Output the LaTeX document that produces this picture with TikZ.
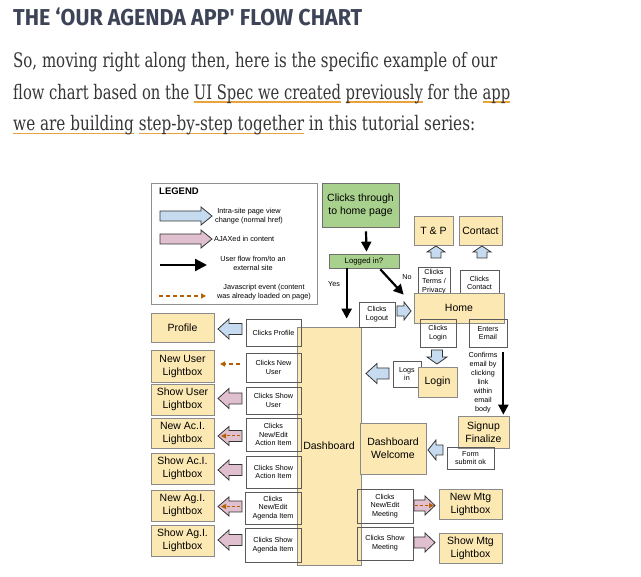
\documentclass[tikz,border=0pt]{standalone}
\usepackage{fontspec}
\usepackage{graphicx}
\setmainfont{Liberation Sans}
\newfontfamily\headfont{Fira Sans}
\newfontfamily\parafont{DejaVu Serif}
\usetikzlibrary{arrows.meta,calc}
\definecolor{headc}{HTML}{3E4457}
\definecolor{parac}{HTML}{363636}
\definecolor{linkc}{HTML}{E8A33D}
\definecolor{yel}{HTML}{FCE8B2}
\definecolor{boxc}{HTML}{8A8A8A}
\definecolor{wbd}{HTML}{5A5A5A}
\definecolor{grn}{HTML}{A9D18E}
\definecolor{gbd}{HTML}{6F6F6F}
\definecolor{blu}{HTML}{C6DBF0}
\definecolor{pnk}{HTML}{E0BFCF}
\definecolor{arc}{HTML}{333333}
\definecolor{orng}{HTML}{B45F06}
\definecolor{lgc}{HTML}{8F8F8F}
\newcommand{\lnk}[1]{\setbox0\hbox{#1}\rlap{\color{linkc}\rule[-3.2pt]{\wd0}{1.3pt}}\box0\relax}
\newcommand{\boxat}[7]{\node[#1, minimum width={#5-#3}, minimum height={#6-#4}] (#2) at ({(#3+#5)/2},{(#4+#6)/2}) {#7};}
% horizontal block arrow: style, tail x, head base x, tip x, y, half shaft, half head
\newcommand{\harrow}[7]{\draw[#1] (#2,{#5-#6}) -- (#3,{#5-#6}) -- (#3,{#5-#7}) -- (#4,#5) -- (#3,{#5+#7}) -- (#3,{#5+#6}) -- (#2,{#5+#6}) -- cycle;}
% vertical block arrow: style, x, tail y, head base y, tip y, half shaft, half head
\newcommand{\varrow}[7]{\draw[#1] ({#2-#6},#3) -- ({#2-#6},#4) -- ({#2-#7},#4) -- (#2,#5) -- ({#2+#7},#4) -- ({#2+#6},#4) -- ({#2+#6},#3) -- cycle;}
\begin{document}
\begin{tikzpicture}[x=1pt,y=-1pt,
 ybox/.style={draw=boxc, fill=yel, line width=0.7pt, align=center, inner sep=0pt, font=\fontsize{10.5}{13}\selectfont},
 wbox/.style={draw=wbd, line width=0.7pt, align=center, inner sep=0pt, font=\fontsize{7.2}{8.8}\selectfont},
 gbox/.style={draw=gbd, fill=grn, line width=0.7pt, align=center, inner sep=0pt},
 lbox/.style={draw=lgc, fill=white, line width=0.8pt},
 legtxt/.style={font=\fontsize{7.3}{9}\selectfont, align=center, inner sep=0pt},
 smtxt/.style={font=\fontsize{7.2}{8.9}\selectfont, align=center, inner sep=0pt},
 blk/.style={line width=2.2pt, -{Triangle[width=10pt,length=10pt]}},
 dsh/.style={draw=orng, line width=1.1pt, dash pattern=on 4pt off 3pt, -{Triangle[width=5pt,length=5pt]}},
 blueA/.style={draw=arc, fill=blu, line width=0.8pt, line join=miter},
 pinkA/.style={draw=arc, fill=pnk, line width=0.8pt, line join=miter},
]
\useasboundingbox (0,0) rectangle (641,577);
\fill[white] (0,0) rectangle (641,577);

% ---------- heading and paragraph ----------
\node[anchor=west, inner sep=0pt, text=headc] (title) at (13,17)
 {\resizebox{349pt}{\height}{\headfont\bfseries\fontsize{23}{27}\selectfont THE ‘OUR AGENDA APP' FLOW CHART}};
\node[anchor=base west, inner sep=0pt, text=parac] (p1) at (13,68)
 {\resizebox{484pt}{\height}{\parafont\fontsize{20}{24}\selectfont So, moving right along then, here is the specific example of our}};
\node[anchor=base west, inner sep=0pt, text=parac] (p2) at (13,99.5)
 {\resizebox{497pt}{\height}{\parafont\fontsize{20}{24}\selectfont flow chart based on the \lnk{UI Spec we created} \lnk{previously} for the \lnk{app}}};
\node[anchor=base west, inner sep=0pt, text=parac] (p3) at (13,131)
 {\resizebox{462pt}{\height}{\parafont\fontsize{20}{24}\selectfont \lnk{we are building} \lnk{step-by-step together} in this tutorial series:}};

% ---------- legend ----------
\boxat{lbox}{legend}{151}{183}{317}{304}{}
\node[anchor=west, inner sep=0pt, font=\bfseries\fontsize{9.5}{11}\selectfont] (legtitle) at (159,191) {LEGEND};
\harrow{blueA}{160}{201}{212}{216}{5}{9}
\node[legtxt] (lt1) at (249,216.5) {Intra-site page view\\change (normal href)};
\harrow{pinkA}{160}{201}{212}{239}{5}{9}
\node[legtxt, anchor=west] (lt2) at (214,239) {AJAXed in content};
\coordinate (lb1) at (160,265);
\coordinate (lb2) at (207,265);
\draw[blk, -{Triangle[width=12pt,length=12pt]}] (lb1) -- (lb2);
\node[legtxt] (lt3) at (253,263.5) {User flow from/to an\\external site};
\coordinate (ld1) at (159,296);
\coordinate (ld2) at (206,296);
\draw[dsh] (ld1) -- (ld2);
\node[legtxt] (lt4) at (264,292.5) {Javascript event (content\\was already loaded on page)};

% ---------- top flow ----------
\boxat{gbox, font=\fontsize{10.5}{12.7}\selectfont}{start}{322}{183}{399}{227}{Clicks through\\to home page}
\boxat{gbox, font=\fontsize{7.8}{9}\selectfont}{logged}{329}{254}{399}{268}{Logged in?}
\coordinate (gS) at ($(start.south)+(5.5,4)$);
\coordinate (gE) at ($(logged.north)+(2.5,-2)$);
\draw[blk] (gS) -- (gE);

\boxat{ybox}{tp}{414}{216}{453}{245}{T \& P}
\boxat{ybox}{contact}{459}{216}{502}{245}{Contact}
\varrow{blueA}{436}{258}{252}{246}{5}{9}
\varrow{blueA}{482}{258}{252}{246}{5}{9}
\boxat{wbox}{cterms}{418}{267}{450}{296}{Clicks\\Terms /\\Privacy}
\boxat{wbox}{ccontact}{460}{270}{499}{296}{Clicks\\Contact}
\boxat{ybox}{home}{414}{293}{504}{323}{Home}
\boxat{wbox}{clogin}{420}{319}{456}{347}{Clicks\\Login}
\boxat{wbox}{email}{469}{319}{507}{347}{Enters\\Email}

\coordinate (nS) at ($(logged.south east)+(-19,1)$);
\coordinate (nE) at ($(home.north west)+(-10,2)$);
\draw[blk] (nS) -- (nE);
\node[smtxt] (no) at (407,277) {No};

% ---------- dashboard ----------
\boxat{ybox}{dash}{297}{327}{361}{565}{Dashboard}
\coordinate (yS) at ($(logged.south west)+(18,0)$);
\draw[blk, shorten >=8pt] (yS) -- (yS |- dash.north);
\node[smtxt] (yes) at (334,284) {Yes};

\boxat{wbox}{clogout}{359}{302}{395}{327}{Clicks\\Logout}
\harrow{blueA}{397}{404}{411}{311}{5}{9}

\varrow{blueA}{437}{350}{357}{364}{5.5}{10}
\boxat{wbox}{logsin}{393}{361}{421}{387}{Logs\\in}
\boxat{ybox}{login}{418}{367}{457}{397}{Login}
\harrow{blueA}{389}{377}{366}{373.5}{5.5}{10}

\node[smtxt] (confirm) at (483,382.5) {Confirms\\email by\\clicking\\link\\within\\email\\body};

\boxat{ybox}{signup}{458}{416}{509}{448}{Signup\\Finalize}
\coordinate (eS) at ($(email.south east)+(-4,5)$);
\coordinate (eE) at (eS |- signup.north);
\draw[blk, shorten >=1pt] (eS) -- (eE);
\boxat{wbox}{formok}{447}{447}{494}{469}{Form\\submit ok}
\boxat{ybox}{welcome}{360}{423}{426}{474}{Dashboard\\Welcome}
\harrow{blueA}{443}{436}{428}{450}{5}{10}

% ---------- meetings ----------
\boxat{wbox}{cnewmtg}{357}{489}{413}{523}{Clicks\\New/Edit\\Meeting}
\boxat{wbox}{cshowmtg}{357}{527}{413}{560}{Clicks Show\\Meeting}
\harrow{pinkA}{414}{425}{435}{505.5}{5.5}{9.5}
\coordinate (m1) at (415,505.5);
\coordinate (m2) at (434,505.5);
\draw[dsh, line width=1pt, dash pattern=on 3pt off 2pt] (m1) -- (m2);
\harrow{pinkA}{414}{425}{435}{542.5}{5.5}{9.5}
\boxat{ybox}{newmtg}{439}{489}{502}{519}{New Mtg\\Lightbox}
\boxat{ybox}{showmtg}{439}{533}{502}{563}{Show Mtg\\Lightbox}

% ---------- left column ----------
\boxat{ybox}{profile}{151}{313}{214}{342}{Profile}
\boxat{ybox}{newuser}{151}{350}{214}{382}{New User\\Lightbox}
\boxat{ybox}{showuser}{151}{384}{214}{415}{Show User\\Lightbox}
\boxat{ybox}{newaci}{151}{418}{214}{448}{New Ac.I.\\Lightbox}
\boxat{ybox}{showaci}{151}{453}{214}{484}{Show Ac.I.\\Lightbox}
\boxat{ybox}{newagi}{151}{490}{214}{521}{New Ag.I.\\Lightbox}
\boxat{ybox}{showagi}{151}{525}{214}{556}{Show Ag.I.\\Lightbox}

\boxat{wbox}{cprofile}{246}{319}{301}{346}{Clicks Profile}
\boxat{wbox}{cnewuser}{246}{353}{301}{382}{Clicks New\\User}
\boxat{wbox}{cshowuser}{246}{387}{301}{414}{Clicks Show\\User}
\boxat{wbox}{cnewaci}{246}{418}{301}{451}{Clicks\\New/Edit\\Action Item}
\boxat{wbox}{cshowaci}{246}{456}{301}{488}{Clicks Show\\Action Item}
\boxat{wbox}{cnewagi}{245}{492}{301}{524}{Clicks\\New/Edit\\Agenda Item}
\boxat{wbox}{cshowagi}{245}{528}{301}{562}{Clicks Show\\Agenda Item}

\harrow{blueA}{242}{229}{218}{329}{5.5}{10}
\coordinate (u1) at (240,364);
\coordinate (u2) at (220,364);
\draw[dsh] (u1) -- (u2);
\harrow{pinkA}{242}{229}{218}{398.5}{5.5}{10}
\harrow{pinkA}{242}{229}{218}{436}{5.5}{9.5}
\coordinate (a1) at (240,436);
\coordinate (a2) at (221,436);
\draw[dsh, line width=1pt, dash pattern=on 3pt off 2pt] (a1) -- (a2);
\harrow{pinkA}{242}{229}{218}{470}{5.5}{10}
\harrow{pinkA}{242}{229}{218}{506.5}{5.5}{9.5}
\coordinate (g1) at (240,506.5);
\coordinate (g2) at (221,506.5);
\draw[dsh, line width=1pt, dash pattern=on 3pt off 2pt] (g1) -- (g2);
\harrow{pinkA}{242}{229}{218}{540}{5.5}{10}
\end{tikzpicture}
\end{document}
